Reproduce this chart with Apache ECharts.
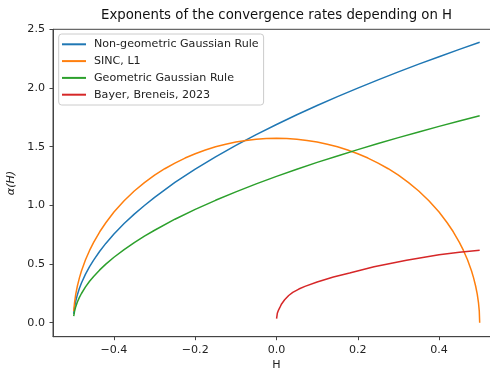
<!DOCTYPE html>
<html>
<head>
<meta charset="utf-8">
<script src="https://cdn.jsdelivr.net/npm/echarts@6/dist/echarts.min.js"></script>
<style>
  html, body { margin: 0; padding: 0; background: #ffffff; }
  #chart { width: 490px; height: 370px; }
</style>
</head>
<body>
<div id="chart"></div>
<script>
// Hurst parameter grids
const hGauss = [-0.499,-0.497,-0.494,-0.49,-0.485,-0.48,-0.47,-0.46,-0.45,-0.435,-0.42,-0.4,-0.375,-0.35,-0.325,-0.3,-0.25,-0.2,-0.15,-0.1,-0.05,0,0.05,0.1,0.15,0.2,0.25,0.3,0.35,0.4,0.45,0.5];
const hSinc = [-0.499,-0.497,-0.494,-0.49,-0.485,-0.48,-0.47,-0.46,-0.45,-0.435,-0.42,-0.4,-0.375,-0.35,-0.325,-0.3,-0.275,-0.25,-0.225,-0.2,-0.175,-0.15,-0.125,-0.1,-0.075,-0.05,-0.025,0,0.025,0.05,0.075,0.1,0.125,0.15,0.175,0.2,0.225,0.25,0.275,0.3,0.325,0.35,0.375,0.4,0.42,0.435,0.45,0.46,0.47,0.48,0.485,0.49,0.494,0.497,0.499,0.5];
const hBayer = [0.0002,0.002,0.005,0.008,0.0125,0.02,0.03,0.04,0.055,0.07,0.1,0.14,0.18,0.24,0.28,0.32,0.4,0.45,0.5];

// Convergence-rate exponents alpha(H)
const nonGeometric = [0.076,0.131,0.185,0.239,0.293,0.338,0.414,0.478,0.534,0.609,0.676,0.756,0.845,0.925,0.999,1.068,1.195,1.309,1.413,1.511,1.603,1.689,1.772,1.851,1.926,1.999,2.069,2.137,2.203,2.266,2.329,2.389];
const sincL1 = [0.099,0.172,0.243,0.313,0.382,0.440,0.536,0.616,0.685,0.775,0.852,0.943,1.039,1.122,1.194,1.257,1.312,1.360,1.403,1.440,1.472,1.499,1.521,1.539,1.553,1.563,1.569,1.571,1.569,1.563,1.553,1.539,1.521,1.499,1.472,1.440,1.403,1.360,1.312,1.257,1.194,1.122,1.039,0.943,0.852,0.775,0.685,0.616,0.536,0.440,0.382,0.313,0.243,0.172,0.099,0];
const geometric = [0.056,0.097,0.137,0.176,0.216,0.249,0.305,0.353,0.394,0.450,0.499,0.558,0.623,0.683,0.738,0.788,0.882,0.966,1.043,1.115,1.183,1.247,1.308,1.366,1.421,1.475,1.527,1.577,1.625,1.673,1.718,1.763];
const bayerBreneis = [0.035,0.08,0.108,0.128,0.16,0.196,0.232,0.258,0.287,0.31,0.347,0.389,0.424,0.477,0.505,0.532,0.58,0.6,0.617];

// Tick positions
const xTicks = [-0.4, -0.2, 0, 0.2, 0.4];
const yTicks = [0, 0.5, 1, 1.5, 2, 2.5];

const names = ['Non-geometric Gaussian Rule', 'SINC, L1', 'Geometric Gaussian Rule', 'Bayer, Breneis, 2023'];
const colors = ['#1f77b4', '#ff7f0e', '#2ca02c', '#d62728'];

const zip = (xs, ys) => xs.map((x, i) => [x, ys[i]]);
const FONT = 'DejaVu Sans';
const FS = 11.1;
const fmt = v => (v < 0 ? '\u2212' : '') + Math.abs(v).toFixed(1);

const seriesData = [
  zip(hGauss, nonGeometric),
  zip(hSinc, sincL1),
  zip(hGauss, geometric),
  zip(hBayer, bayerBreneis)
];

const chart = echarts.init(document.getElementById('chart'), null, { renderer: 'canvas' });
chart.setOption({
  animation: false,
  backgroundColor: '#ffffff',
  color: colors,
  title: {
    text: 'Exponents of the convergence rates depending on H',
    left: 101,
    top: 9,
    padding: 0,
    textStyle: { fontFamily: FONT, fontSize: 13.3, fontWeight: 'normal', color: '#111' }
  },
  legend: {
    orient: 'vertical',
    left: 58.7,
    top: 34,
    padding: [3.8, 5, 3.8, 3.3],
    itemGap: 3.8,
    itemWidth: 24,
    itemHeight: 2,
    icon: 'rect',
    backgroundColor: 'rgba(255,255,255,0.8)',
    borderColor: '#cccccc',
    borderWidth: 1,
    borderRadius: 3,
    selectedMode: false,
    data: names,
    textStyle: { fontFamily: FONT, fontSize: FS, color: '#222', lineHeight: 13, padding: [0, 0, 0, 3] }
  },
  grid: {
    left: 53,
    top: 29.3,
    width: 447,
    height: 307.4,
    show: true,
    borderColor: '#444',
    borderWidth: 1,
    containLabel: false,
    outerBoundsMode: 'none'
  },
  xAxis: {
    type: 'value',
    min: -0.55,
    max: 0.55,
    name: 'H',
    nameLocation: 'middle',
    nameGap: 23,
    nameTextStyle: { fontFamily: FONT, fontSize: FS, color: '#222' },
    axisLine: { onZero: false, lineStyle: { color: '#444', width: 1 } },
    axisTick: { customValues: xTicks, length: 3.5, lineStyle: { color: '#444' } },
    axisLabel: { customValues: xTicks, formatter: fmt, margin: 7.5, fontFamily: FONT, fontSize: FS, color: '#222' },
    splitLine: { show: false }
  },
  yAxis: {
    type: 'value',
    min: -0.119,
    max: 2.5,
    name: '{i|α}(H)',
    nameLocation: 'middle',
    nameGap: 32,
    nameRotate: 90,
    nameTextStyle: {
      fontFamily: FONT, fontSize: FS, color: '#222', fontStyle: 'italic',
      rich: { i: { fontFamily: FONT, fontSize: FS, fontStyle: 'italic', color: '#222' } }
    },
    axisLine: { onZero: false, lineStyle: { color: '#444', width: 1 } },
    axisTick: { customValues: yTicks, length: 3.5, lineStyle: { color: '#444' } },
    axisLabel: { customValues: yTicks, formatter: fmt, margin: 8, fontFamily: FONT, fontSize: FS, color: '#222' },
    splitLine: { show: false }
  },
  series: names.map((n, i) => ({
    name: n,
    type: 'line',
    data: seriesData[i],
    showSymbol: false,
    smooth: false,
    lineStyle: { width: 1.5, color: colors[i] },
    itemStyle: { color: colors[i] }
  }))
});
</script>
</body>
</html>
